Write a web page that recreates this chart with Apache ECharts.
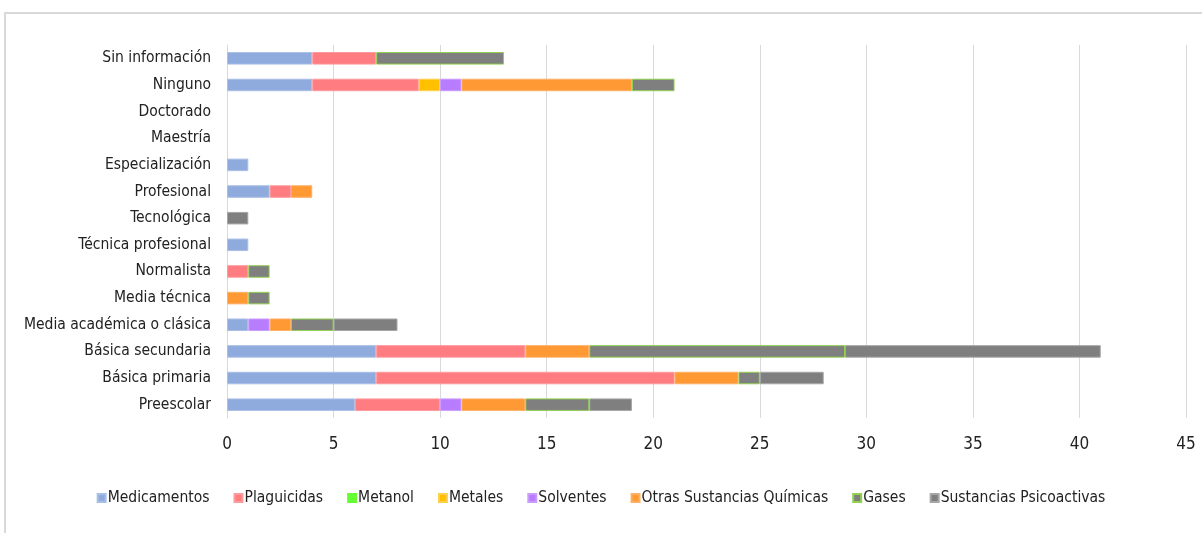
<!DOCTYPE html>
<html>
<head>
<meta charset="utf-8">
<script src="https://cdn.jsdelivr.net/npm/echarts@6/dist/echarts.min.js"></script>
<style>
  html, body { margin: 0; padding: 0; background: #fff; }
  #main { width: 1202px; height: 533px; }
</style>
</head>
<body>
<div id="main"></div>
<script>
// niveles educativos (de abajo hacia arriba)
let niveles = ['Preescolar', 'Básica primaria', 'Básica secundaria', 'Media académica o clásica',
  'Media técnica', 'Normalista', 'Técnica profesional', 'Tecnológica', 'Profesional',
  'Especialización', 'Maestría', 'Doctorado', 'Ninguno', 'Sin información'];

// valores por sustancia, mismo orden que niveles
let medicamentos = [6, 7, 7, 1, 0, 0, 1, 0, 2, 1, 0, 0, 4, 4];
let plaguicidas  = [4, 14, 7, 0, 0, 1, 0, 0, 1, 0, 0, 0, 5, 3];
let metanol      = [0, 0, 0, 0, 0, 0, 0, 0, 0, 0, 0, 0, 0, 0];
let metales      = [0, 0, 0, 0, 0, 0, 0, 0, 0, 0, 0, 0, 1, 0];
let solventes    = [1, 0, 0, 1, 0, 0, 0, 0, 0, 0, 0, 0, 1, 0];
let otras        = [3, 3, 3, 1, 1, 0, 0, 0, 1, 0, 0, 0, 8, 0];
let gases        = [3, 1, 12, 2, 1, 1, 0, 0, 0, 0, 0, 0, 2, 6];
let psicoactivas = [2, 3, 12, 3, 0, 0, 0, 1, 0, 0, 0, 0, 0, 0];

let ejeX = [0, 5, 10, 15, 20, 25, 30, 35, 40, 45];

let fuente = "'Liberation Sans Narrow', 'DejaVu Sans Condensed', sans-serif";

// nombre, datos, relleno, borde
let series_def = [
  ['Medicamentos', medicamentos, '#8faadc', '#a9bfe6'],
  ['Plaguicidas', plaguicidas, '#ff7c80', '#ff9a9d'],
  ['Metanol', metanol, '#66ff33', '#66ff33'],
  ['Metales', metales, '#ffc000', '#ffd04d'],
  ['Solventes', solventes, '#b87cff', '#c99cff'],
  ['Otras Sustancias Químicas', otras, '#ff9933', '#ffb066'],
  ['Gases', gases, '#7f7f7f', '#92d050'],
  ['Sustancias Psicoactivas', psicoactivas, '#7f7f7f', '#a6a6a6']
];

let series = [];
for (let i = 0; i < series_def.length; i++) {
  let s = series_def[i];
  series.push({
    name: s[0],
    type: 'bar',
    stack: 'total',
    barWidth: '47%',
    data: s[1].map(function (v) { return v === 0 ? null : v; }),
    itemStyle: {
      color: s[2],
      borderColor: s[3],
      borderWidth: 1
    }
  });
}

let myChart = echarts.init(document.getElementById('main'));

let option = {
  animation: false,
  backgroundColor: '#fff',
  textStyle: { fontFamily: fuente },
  graphic: [{
    type: 'rect',
    shape: { x: 5, y: 13, width: 1300, height: 600 },
    style: { fill: 'none', stroke: '#d9d9d9', lineWidth: 2 },
    silent: true
  }],
  grid: { left: 227, right: 16, top: 45, bottom: 115 },
  legend: {
    data: series_def.map(function (s) { return s[0]; }),
    bottom: 22,
    left: 'center',
    itemWidth: 8,
    itemHeight: 8,
    itemGap: 24,
    icon: 'rect',
    textStyle: { fontFamily: fuente, fontSize: 15.5, color: '#222', padding: [0, 0, 0, -3] }
  },
  xAxis: {
    type: 'value',
    min: ejeX[0],
    max: ejeX[ejeX.length - 1],
    interval: 5,
    axisLine: { show: false },
    axisTick: { show: false },
    axisLabel: { fontFamily: fuente, fontSize: 17, color: '#222', margin: 18 },
    splitLine: { lineStyle: { color: '#d9d9d9', width: 1 } }
  },
  yAxis: {
    type: 'category',
    data: niveles,
    axisLine: { show: true, lineStyle: { color: '#d9d9d9' } },
    axisTick: { show: false },
    axisLabel: { fontFamily: fuente, fontSize: 15.5, color: '#222', margin: 16 }
  },
  series: series
};

myChart.setOption(option);
</script>
</body>
</html>
